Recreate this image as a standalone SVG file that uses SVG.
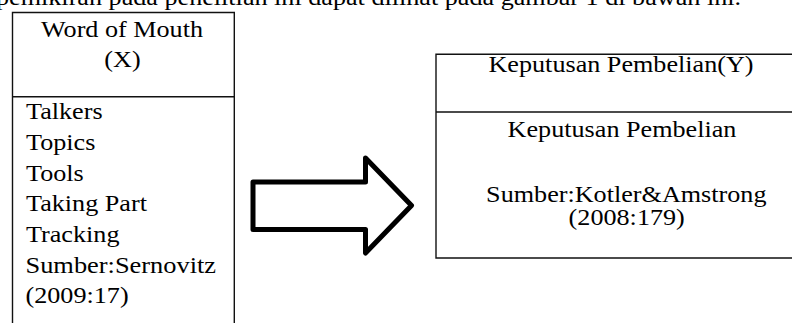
<svg xmlns="http://www.w3.org/2000/svg" width="792" height="323" viewBox="0 0 792 323">
<style>
text{font-family:'Liberation Serif','Times New Roman',serif;font-size:24px;fill:#000}
.m{text-anchor:middle}
.box{fill:none;stroke:#111;stroke-width:1.4}
.arrow{fill:#fff;stroke:#000;stroke-width:5;stroke-linejoin:round}
</style>
<rect width="792" height="323" fill="#fff"/>
<text transform="translate(-4,5) scale(1.09,1)">pemikiran pada penelitian ini dapat dilihat pada gambar 1 di bawah ini.</text>
<g id="node-x">
<path class="box" d="M12.5,330 V12.5 H234.3 V330 M12.5,96.7 H234.3"/>
<text class="m" transform="translate(122,36.7) scale(1.09,1)">Word of Mouth</text>
<text class="m" transform="translate(122.5,66.7) scale(1.09,1)">(X)</text>
<text transform="translate(26,119.3) scale(1.09,1)">Talkers</text>
<text transform="translate(26,149.6) scale(1.09,1)">Topics</text>
<text transform="translate(26,180.6) scale(1.09,1)">Tools</text>
<text transform="translate(26,211.4) scale(1.09,1)">Taking Part</text>
<text transform="translate(26,242) scale(1.09,1)">Tracking</text>
<text transform="translate(25.5,272.8) scale(1.1,1)">Sumber:Sernovitz</text>
<text transform="translate(25.5,303.4) scale(1.09,1)">(2009:17)</text>
</g>
<g id="node-y">
<path class="box" d="M800,54.3 H436 V258 H800 M436,112 H800"/>
<text class="m" transform="translate(621,71.7) scale(1.09,1)">Keputusan Pembelian(Y)</text>
<text class="m" transform="translate(622,136.7) scale(1.09,1)">Keputusan Pembelian</text>
<text class="m" transform="translate(626.3,201.7) scale(1.09,1)">Sumber:Kotler&amp;Amstrong</text>
<text class="m" transform="translate(626.7,224.8) scale(1.09,1)">(2008:179)</text>
</g>
<g id="connectors">
<path class="arrow" d="M253,182 H365.5 V158 L411.5,205.5 L365.5,253 V229.5 H253 Z"/>
</g>
</svg>
